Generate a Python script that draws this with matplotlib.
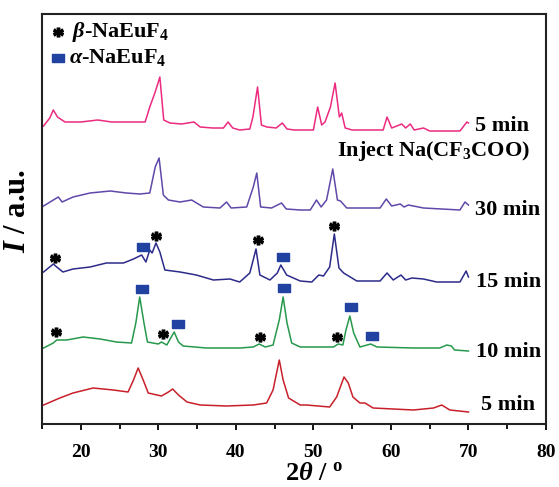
import matplotlib

matplotlib.use("Agg")  # headless
import matplotlib.pyplot as plt

plt.rcParams["font.family"] = ["Liberation Serif", "DejaVu Serif"]
plt.rcParams["font.weight"] = "bold"
plt.rcParams["mathtext.fontset"] = "custom"
plt.rcParams["mathtext.rm"] = "Liberation Serif:bold"
plt.rcParams["mathtext.it"] = "Liberation Serif:italic:bold"
plt.rcParams["mathtext.bf"] = "Liberation Serif:bold"

# --- data (2theta in degrees, intensity in arbitrary stacked units) ---
tt_inj5 = [15.2, 16.0, 16.46, 17.0, 17.97, 20.0, 22.2, 24.0, 26.0, 28.3, 28.9, 29.6, 30.2, 30.7,
           31.5, 33.0, 34.6, 35.4, 37.0, 38.4, 39.0, 39.6, 40.5, 41.8, 42.2, 42.8, 43.3, 44.0,
           45.2, 46.0, 46.6, 47.5, 50.0, 50.55, 51.07, 51.5, 52.2, 52.8, 53.35, 53.65, 54.1,
           55.0, 59.0, 59.5, 60.1, 61.4, 61.9, 62.5, 63.0, 64.2, 65.0, 68.9, 69.8, 70.0]
int_inj5 = [298, 306, 314, 307, 302, 302, 304, 302, 302, 302, 317, 332, 347, 304,
            301, 300, 302, 297, 296, 296, 302, 296, 294, 295, 307, 337, 299, 297,
            296, 301, 295, 294, 294, 317, 299, 302, 317, 341, 307, 311, 296,
            294, 294, 307, 296, 300, 296, 300, 294, 296, 293, 293, 302, 301]

tt_30 = [15.2, 17.1, 17.6, 19.0, 21.2, 23.8, 25.9, 27.6, 28.9, 29.6, 30.1, 30.65, 31.3, 32.8,
         34.3, 35.8, 37.95, 38.8, 39.4, 41.4, 42.25, 42.7, 43.2, 44.6, 45.9, 46.5, 48.3, 49.6,
         50.4, 51.0, 51.7, 52.5, 53.1, 53.5, 54.3, 58.6, 59.4, 60.1, 61.2, 61.7, 62.25, 64.2,
         68.9, 69.55, 70.0]
int_30 = [218, 227, 222, 227, 231, 233, 231, 230, 231, 257, 266, 229, 224, 222,
          224, 217, 216, 222, 216, 217, 237, 251, 217, 216, 221, 215, 214, 214,
          224, 217, 224, 255, 224, 223, 216, 216, 225, 218, 220, 217, 219, 216,
          214, 222, 219]

tt_15 = [15.2, 16.46, 16.9, 17.7, 19.0, 21.2, 23.3, 25.5, 26.8, 27.85, 28.4, 28.9, 29.2, 29.7,
         30.2, 30.85, 32.8, 34.9, 37.1, 39.25, 40.5, 41.8, 42.6, 43.1, 44.4, 45.35, 45.8, 46.55,
         48.3, 49.8, 50.7, 51.3, 52.1, 52.7, 53.3, 53.9, 55.6, 58.6, 59.5, 60.3, 61.3, 61.9,
         62.7, 64.2, 65.9, 68.9, 69.7, 70.0]
int_15 = [152, 160, 157, 152, 155, 157, 161, 161, 165, 169, 162, 174, 171, 181,
          172, 154, 152, 149, 144, 145, 142, 151, 175, 149, 144, 151, 159, 149,
          143, 142, 149, 148, 157, 190, 156, 151, 143, 143, 151, 144, 149, 144,
          146, 145, 142, 142, 153, 147]

tt_10 = [15.2, 16.46, 16.9, 18.2, 20.3, 22.5, 24.6, 26.55, 27.1, 27.6, 28.15, 28.6, 30.0, 30.4,
         31.1, 31.6, 32.05, 32.6, 33.2, 36.2, 40.5, 42.25, 43.0, 43.8, 44.8, 45.6, 46.1, 46.6,
         47.2, 48.3, 50.0, 52.6, 53.2, 53.8, 54.2, 54.7, 55.2, 56.0, 57.4, 58.2, 62.9, 66.3,
         67.2, 67.8, 68.2, 70.0]
int_10 = [76, 81, 84, 84, 87, 85, 82, 81, 101, 127, 101, 82, 80, 82,
          79, 86, 92, 82, 78, 76, 76, 77, 80, 77, 79, 104, 127, 101,
          81, 77, 77, 77, 80, 79, 94, 108, 91, 77, 80, 77, 76, 76,
          79, 78, 74, 73]

tt_5 = [15.2, 17.3, 19.0, 21.6, 24.2, 26.1, 26.8, 27.4, 28.05, 28.7, 30.4, 31.3, 31.85, 32.6,
        33.7, 35.4, 38.8, 42.25, 43.97, 44.8, 45.6, 46.1, 46.8, 48.3, 49.1, 52.1, 53.0, 53.95,
        54.5, 55.1, 56.0, 56.65, 57.7, 62.9, 65.5, 66.55, 67.6, 70.0]
int_5 = [19, 26, 31, 36, 34, 32, 44, 56, 44, 31, 28, 32, 35, 29,
         22, 19, 18, 19, 21, 34, 64, 44, 26, 19, 19, 17, 27, 47,
         41, 27, 21, 21, 16, 14, 16, 19, 14, 12]

trace_colors = ["#c8202a", "#27994c", "#2d2b8a", "#6048aa", "#ec2a80"]

# peak markers: beta phase (stars) and alpha phase (squares)
beta_tt = [16.7, 29.7, 42.9, 52.7, 16.8, 30.6, 43.1, 53.1]
beta_int = [166, 188, 184, 198, 92, 90, 87, 87]
alpha_tt = [28.0, 46.1, 27.95, 32.5, 46.2, 54.8, 57.6]
alpha_int = [177, 167, 135, 100, 136, 117, 88]

# right-hand labels
label_texts = ["5 min", r"Inject Na(CF$_3$COO)", "30 min", "15 min", "10 min", "5 min"]
label_tt = [70.8, 53.1, 70.8, 71.0, 71.0, 71.6]
label_int = [298, 273, 214, 142, 72, 19]

STAR = r"$*$"
RECT = [(-1, -0.7), (1, -0.7), (1, 0.7), (-1, 0.7), (-1, -0.7)]
ALPHA_COLOR = "#2142a0"

fig = plt.figure(figsize=(5.59, 4.87), dpi=100)
ax = fig.add_axes([42 / 559, 1 - 424 / 487, 504 / 559, 410 / 487])

traces = [(tt_5, int_5), (tt_10, int_10), (tt_15, int_15), (tt_30, int_30), (tt_inj5, int_inj5)]
for (tt, inten), color in zip(traces, trace_colors):
    ax.plot(tt, inten, color=color, lw=1.1)

ax.plot(beta_tt, beta_int, ls="none", marker=STAR, ms=7, color="black")
ax.plot(alpha_tt, alpha_int, ls="none", marker=RECT, ms=8.6, color=ALPHA_COLOR)

for txt, x, y in zip(label_texts, label_tt, label_int):
    ax.text(x, y, txt, fontsize=16, fontweight="bold", ha="left", va="center")

# legend drawn by hand
ax.plot([17.05], [392], ls="none", marker=STAR, ms=7, color="black")
ax.plot([17.0], [366], ls="none", marker=RECT, ms=8.6, color=ALPHA_COLOR)
ax.text(18.9, 392, r"$\beta$-NaEuF$_4$", fontsize=16, fontweight="bold", ha="left", va="center")
ax.text(18.5, 366, r"$\alpha$-NaEuF$_4$", fontsize=16, fontweight="bold", ha="left", va="center")

ax.set_xlim(15, 80)
ax.set_ylim(0, 410)
ax.set_xticks(range(20, 81, 10))
ax.set_xticks(range(15, 81, 5), minor=True)
ax.set_yticks([])
ax.tick_params(axis="x", which="major", direction="out", length=4.5, width=1.3, pad=10, labelsize=14)
ax.tick_params(axis="x", which="minor", direction="out", length=3.5, width=1.3)
for lbl in ax.get_xticklabels():
    lbl.set_fontweight("bold")
for sp in ax.spines.values():
    sp.set_linewidth(1.5)
    sp.set_color("#222222")

ax.set_xlabel(r"$2\theta$ / $^\mathrm{o}$", fontsize=19, fontweight="bold")
ax.xaxis.set_label_coords(0.54, -0.093)
ax.set_ylabel(r"$I$ / a.u.", fontsize=22, fontweight="bold")
ax.yaxis.set_label_coords(-0.02, 0.52)

fig.savefig("out.png", dpi=100)
